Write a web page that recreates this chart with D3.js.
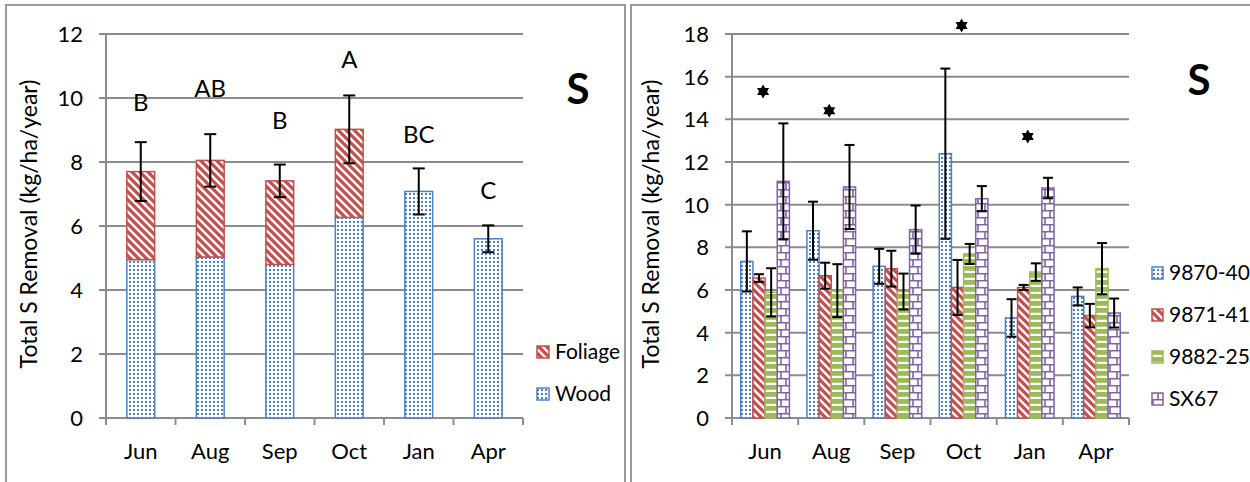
<!DOCTYPE html>
<html>
<head>
<meta charset="utf-8">
<script src="https://cdn.jsdelivr.net/npm/d3@7"></script>
<style>
  body { margin: 0; background: #fff; }
  svg { font-family: Lato, "Open Sans", sans-serif; }
</style>
</head>
<body>
<svg id="chart" width="1250" height="482"></svg>
<script>
// left chart: stacked wood + foliage
const months = ["Jun", "Aug", "Sep", "Oct", "Jan", "Apr"];
const wood = [4.95, 5.03, 4.8, 6.27, 7.08, 5.6];
const foliage = [2.75, 3.02, 2.61, 2.75, 0, 0];
const totalErr = [0.92, 0.82, 0.51, 1.06, 0.72, 0.42];
const letters = ["B", "AB", "B", "A", "BC", "C"];
const letterY = [9.6, 10.03, 9.03, 10.94, 8.6, 6.84];
const leftTicks = [0, 2, 4, 6, 8, 10, 12];

// right chart: four clones
const clones = ["9870-40", "9871-41", "9882-25", "SX67"];
const cloneVals = {
  "9870-40": [7.34, 8.78, 7.11, 12.39, 4.69, 5.7],
  "9871-41": [6.56, 6.67, 7.0, 6.12, 6.12, 4.8],
  "9882-25": [5.89, 5.97, 5.93, 7.69, 6.84, 7.0],
  "SX67":    [11.09, 10.83, 8.83, 10.28, 10.78, 4.92]
};
const cloneErr = {
  "9870-40": [1.41, 1.36, 0.82, 3.99, 0.88, 0.42],
  "9871-41": [0.18, 0.61, 0.84, 1.29, 0.12, 0.55],
  "9882-25": [1.13, 1.24, 0.84, 0.47, 0.41, 1.2],
  "SX67":    [2.72, 1.97, 1.13, 0.59, 0.48, 0.68]
};
const starMonths = ["Jun", "Aug", "Oct", "Jan"];
const starY = [15.3, 14.4, 18.4, 13.2];
const rightTicks = [0, 2, 4, 6, 8, 10, 12, 14, 16, 18];

const gridColor = "#8c8c8c";
const colors = { blue: "#4f81bd", red: "#c0504d", green: "#9bbb59", purple: "#8064a2" };

const svg = d3.select("#chart");
const defs = svg.append("defs");

// fill patterns, Excel style
function dots(id, c) {
  const p = defs.append("pattern").attr("id", id).attr("patternUnits", "userSpaceOnUse")
    .attr("width", 4).attr("height", 4);
  p.append("rect").attr("width", 4).attr("height", 4).attr("fill", "#fff");
  p.append("rect").attr("x", 1).attr("y", 1).attr("width", 2).attr("height", 2).attr("fill", c);
}
function diag(id, c) {
  const p = defs.append("pattern").attr("id", id).attr("patternUnits", "userSpaceOnUse")
    .attr("width", 8).attr("height", 8);
  p.append("rect").attr("width", 8).attr("height", 8).attr("fill", "#fff");
  p.append("path").attr("d", "M-2,2 L2,-2 M0,8 L8,0 M6,10 L10,6").attr("stroke", c)
    .attr("stroke-width", 3.2).attr("transform", "scale(-1,1) translate(-8,0)");
}
function hstripe(id, c) {
  const p = defs.append("pattern").attr("id", id).attr("patternUnits", "userSpaceOnUse")
    .attr("width", 6).attr("height", 7);
  p.append("rect").attr("width", 6).attr("height", 7).attr("fill", "#fff");
  p.append("rect").attr("y", 0).attr("width", 6).attr("height", 4.8).attr("fill", c);
}
function brick(id, c) {
  const p = defs.append("pattern").attr("id", id).attr("patternUnits", "userSpaceOnUse")
    .attr("width", 12).attr("height", 14);
  p.append("rect").attr("width", 12).attr("height", 14).attr("fill", "#fff");
  p.append("path").attr("d", "M0,0.8 H12 M0,7.8 H12 M6,0 V7 M1,7 V14").attr("stroke", c)
    .attr("stroke-width", 1.6).attr("fill", "none");
}
dots("pBlue", colors.blue);
diag("pRed", colors.red);
hstripe("pGreen", colors.green);
brick("pPurple", colors.purple);

const cloneFill = { "9870-40": "url(#pBlue)", "9871-41": "url(#pRed)", "9882-25": "url(#pGreen)", "SX67": "url(#pPurple)" };
const cloneStroke = { "9870-40": colors.blue, "9871-41": colors.red, "9882-25": colors.green, "SX67": colors.purple };

// panel borders
svg.append("path").attr("d", "M6,490 V5 H625 V490").attr("fill", "none").attr("stroke", "#9a9a9a").attr("stroke-width", 2);
svg.append("path").attr("d", "M631,490 V5 H1260").attr("fill", "none").attr("stroke", "#9a9a9a").attr("stroke-width", 2);

function frame(g, x, y, ticks, x0, x1) {
  // grid + y ticks
  g.selectAll(".grid").data(ticks).enter().append("line")
    .attr("x1", x0 - 7).attr("x2", x1)
    .attr("y1", d => y(d)).attr("y2", d => y(d))
    .attr("stroke", gridColor).attr("stroke-width", 2);
  g.selectAll(".ylab").data(ticks).enter().append("text")
    .attr("x", x0 - 23).attr("y", d => y(d) + 8)
    .attr("text-anchor", "end").attr("font-size", 22).attr("fill", "#000")
    .text(d => d);
  // y axis line
  g.append("line").attr("x1", x0).attr("x2", x0).attr("y1", y(ticks[ticks.length - 1])).attr("y2", y(0) + 7)
    .attr("stroke", gridColor).attr("stroke-width", 2);
  // x ticks at band edges
  const edges = x.domain().map(d => x(d)).concat([x1]);
  g.selectAll(".xt").data(edges).enter().append("line")
    .attr("x1", d => d).attr("x2", d => d).attr("y1", y(0)).attr("y2", y(0) + 7)
    .attr("stroke", gridColor).attr("stroke-width", 2);
  g.selectAll(".xlab").data(x.domain()).enter().append("text")
    .attr("x", d => x(d) + x.bandwidth() / 2).attr("y", 459)
    .attr("text-anchor", "middle").attr("font-size", 22).attr("fill", "#000")
    .text(d => d);
}

function errBar(g, cx, yTop, yBot, w) {
  g.append("line").attr("x1", cx).attr("x2", cx).attr("y1", yTop).attr("y2", yBot)
    .attr("stroke", "#000").attr("stroke-width", 2);
  [yTop, yBot].forEach(yy => g.append("line").attr("x1", cx - w / 2).attr("x2", cx + w / 2)
    .attr("y1", yy).attr("y2", yy).attr("stroke", "#000").attr("stroke-width", 2));
}

function yTitle(cx, cy) {
  svg.append("text").attr("transform", `translate(${cx},${cy}) rotate(-90)`)
    .attr("text-anchor", "middle").attr("font-size", 23).attr("fill", "#000")
    .text("Total S Removal (kg/ha/year)");
}

// ---------- left chart ----------
{
  const x0 = 106, x1 = 523;
  const x = d3.scaleBand().domain(months).range([x0, x1]);
  const y = d3.scaleLinear().domain([0, 12]).range([418, 34]);
  const g = svg.append("g");
  frame(g, x, y, leftTicks, x0, x1);
  const bw = x.bandwidth() * 0.4;
  months.forEach((m, i) => {
    const cx = x(m) + x.bandwidth() / 2;
    g.append("rect").attr("x", cx - bw / 2).attr("y", y(wood[i])).attr("width", bw)
      .attr("height", y(0) - y(wood[i])).attr("fill", "url(#pBlue)")
      .attr("stroke", colors.blue).attr("stroke-width", 1.5);
    if (foliage[i] > 0) {
      g.append("rect").attr("x", cx - bw / 2).attr("y", y(wood[i] + foliage[i])).attr("width", bw)
        .attr("height", y(wood[i]) - y(wood[i] + foliage[i])).attr("fill", "url(#pRed)")
        .attr("stroke", colors.red).attr("stroke-width", 1.5);
    }
    const tot = wood[i] + foliage[i];
    errBar(g, cx, y(tot + totalErr[i]), y(tot - totalErr[i]), 12);
    g.append("text").attr("x", cx).attr("y", y(letterY[i])).attr("text-anchor", "middle")
      .attr("font-size", 24).attr("fill", "#000").text(letters[i]);
  });
  yTitle(37, 224);
  svg.append("text").attr("x", 578).attr("y", 104).attr("text-anchor", "middle")
    .attr("font-size", 42).attr("font-weight", "bold").text("S");
  const leg = [["Foliage", "url(#pRed)", colors.red, 346], ["Wood", "url(#pBlue)", colors.blue, 388]];
  leg.forEach(([name, f, s, ty]) => {
    svg.append("rect").attr("x", 537).attr("y", ty).attr("width", 12).attr("height", 12)
      .attr("fill", f).attr("stroke", s).attr("stroke-width", 1.5);
    svg.append("text").attr("x", 555).attr("y", ty + 13).attr("font-size", 21).text(name);
  });
}

// ---------- right chart ----------
{
  const x0 = 732, x1 = 1129;
  const x = d3.scaleBand().domain(months).range([x0, x1]);
  const y = d3.scaleLinear().domain([0, 18]).range([418, 34]);
  const g = svg.append("g");
  frame(g, x, y, rightTicks, x0, x1);
  const gw = x.bandwidth() * 0.735;
  const xs = d3.scaleBand().domain(clones).range([(x.bandwidth() - gw) / 2, (x.bandwidth() + gw) / 2]);
  clones.forEach(c => {
    months.forEach((m, i) => {
      const v = cloneVals[c][i];
      g.append("rect").attr("x", x(m) + xs(c)).attr("y", y(v)).attr("width", xs.bandwidth())
        .attr("height", y(0) - y(v)).attr("fill", cloneFill[c])
        .attr("stroke", cloneStroke[c]).attr("stroke-width", 1.5);
    });
  });
  clones.forEach(c => {
    months.forEach((m, i) => {
      const v = cloneVals[c][i], e = cloneErr[c][i];
      errBar(g, x(m) + xs(c) + xs.bandwidth() / 2, y(v + e), y(v - e), 10);
    });
  });
  // six-pointed star markers
  const hexagram = {
    draw(ctx, size) {
      const r = Math.sqrt(size) / 1.6;
      for (const rot of [-Math.PI / 2, Math.PI / 2]) {
        for (let k = 0; k < 3; k++) {
          const a = rot + k * 2 * Math.PI / 3;
          const px = r * Math.cos(a), py = r * Math.sin(a);
          if (k === 0) ctx.moveTo(px, py); else ctx.lineTo(px, py);
        }
        ctx.closePath();
      }
    }
  };
  g.selectAll(".star").data(starMonths).enter().append("path")
    .attr("transform", (d, i) => `translate(${x(d) + x.bandwidth() / 2 - 2},${y(starY[i])})`)
    .attr("d", d3.symbol().type(hexagram).size(125)).attr("fill", "#000");
  yTitle(659, 224);
  svg.append("text").attr("x", 1199).attr("y", 95).attr("text-anchor", "middle")
    .attr("font-size", 42).attr("font-weight", "bold").text("S");
  clones.forEach((c, i) => {
    const ty = 267 + i * 42;
    svg.append("rect").attr("x", 1152).attr("y", ty).attr("width", 11).attr("height", 12)
      .attr("fill", cloneFill[c]).attr("stroke", cloneStroke[c]).attr("stroke-width", 1.5);
    svg.append("text").attr("x", 1169).attr("y", ty + 13).attr("font-size", 21).text(c);
  });
}
</script>
</body>
</html>
